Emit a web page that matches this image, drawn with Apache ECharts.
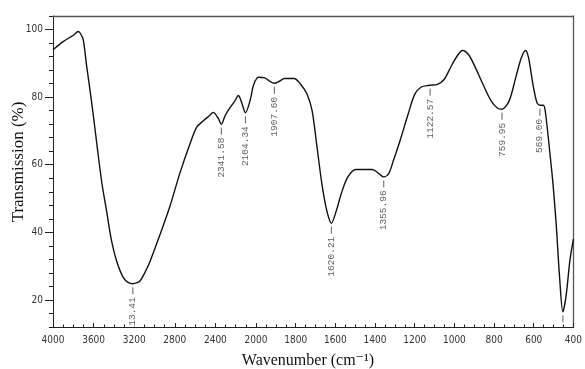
<!DOCTYPE html>
<html><head><meta charset="utf-8">
<script src="https://cdn.jsdelivr.net/npm/echarts@6/dist/echarts.min.js"></script>
<style>html,body{margin:0;padding:0;background:#fff}#c{width:585px;height:369px}</style>
</head><body><div id="c"></div>
<script>
// Spectrum (wavenumber cm-1, transmission %)
const wavenumber = [4000,3900,3800,3751,3725,3702,3668,3619,3570,3520,3471,3422,3372,3307,3260,3215,3170,3143,3100,3044,2946,2847,2749,2650,2584,2519,2460,2421,2377,2340,2305,2256,2207,2174,2141,2104,2059,2030,2010,2000,
  1989,1956,1931,1908,1882,1857,1808,1775,1742,1717,1693,1668,1644,1620,1594,1570,1537,1496,1414,1381,1356,1331,1307,1274,1233,1200,1167,1126,1085,1052,1020,987,959,929,897,856,815,782,760,724,691,663,641,626,604,584,569,552,542,519,503,486,470,453,437,417,400];
const transmission = [94.0,96.4,98.3,99.4,98.6,97.0,89.1,78.4,66.6,54.9,46.1,37.3,31.4,26.6,25.2,24.8,25.1,25.6,27.8,31.4,39.3,47.8,57.6,66.2,71.1,73.0,74.5,75.5,74.0,72.0,74.5,76.9,78.9,80.5,78.4,75.4,78.9,83.0,84.7,85.2,
  85.9,85.7,84.7,84.1,84.7,85.5,85.5,83.8,80.8,75.9,65.5,54.4,46.6,42.7,46.6,51.5,56.4,58.6,58.6,57.4,56.4,57.4,61.3,67.1,75.0,80.8,83.0,83.5,83.8,85.2,88.7,92.1,93.8,92.6,89.1,83.8,78.9,76.7,76.4,78.9,85.7,91.6,93.8,91.6,83.8,78.4,77.6,77.6,75.9,63.7,54.4,41.7,27.0,16.5,21.2,32.0,38.0];
// Peak annotations
const peakWavenumber = [3213.41,2341.58,2104.34,1907.60,1620.21,1355.96,1122.57,759.95,569.00,453];
const peakTransmission = [24.8,72.0,75.4,84.1,42.7,56.4,83.5,76.4,77.6,16.5];
const peakText = ['13.41','2341.58','2104.34','1907.60','1620.21','1355.96','1122.57','759.95','569.00',''];
// Axis ticks
const yTickLabels = [20,40,60,80,100];

const hiLine = [], loLine = [];
wavenumber.forEach((w,i)=>{ if (w>=2000) hiLine.push([w,transmission[i]]); if (w<=2000) loLine.push([w,transmission[i]]); });
const hiPeaks = [], loPeaks = [];
peakWavenumber.forEach((w,i)=>{ const d={value:[w,peakTransmission[i]],name:peakText[i]}; (w>2000?hiPeaks:loPeaks).push(d); });

const tickFont = "'Liberation Sans Narrow','DejaVu Sans Condensed',sans-serif";
const serif = "'Liberation Serif','DejaVu Serif',serif";
const axisCol = '#222';
const frameCol = '#555';

function bottomX(grid, min, max, interval, hideVal){
  return {type:'value', gridIndex:grid, position:'bottom', min:min, max:max, interval:interval, inverse:true,
    axisLine:{show:true,onZero:false,lineStyle:{color:axisCol,width:1}},
    axisTick:{show:true,inside:true,length:4,lineStyle:{color:axisCol}},
    minorTick:{show:true,splitNumber:4,length:2.5,lineStyle:{color:axisCol}},
    splitLine:{show:false},
    axisLabel:{show:true,margin:8,fontFamily:tickFont,fontSize:10,color:'#333',
      formatter:v=> (v===hideVal?'':String(v)), showMinLabel:true, showMaxLabel:true}};
}
function topX(grid,min,max){
  return {type:'value', gridIndex:grid, position:'top', min:min, max:max, inverse:true,
    axisLine:{show:true,onZero:false,lineStyle:{color:frameCol,width:1.3}},
    axisTick:{show:false}, axisLabel:{show:false}, splitLine:{show:false}};
}
const lineLabel = {show:true, formatter:'{b}', position:'bottom', distance:2, rotate:90, align:'right', verticalAlign:'middle',
  fontFamily:"'Liberation Mono','DejaVu Sans Mono',monospace", fontSize:9.5, color:'#333', backgroundColor:'#fff', padding:[0,1]};

const option = {
  animation:false,
  backgroundColor:'#fff',
  grid:[{left:53, top:16, width:203, bottom:42}, {left:256, right:4, top:16, bottom:42}],
  xAxis:[bottomX(0,2000,4000,400,null), bottomX(1,400,2000,200,2000), topX(0,2000,4000), topX(1,400,2000)],
  yAxis:[
    {type:'value', gridIndex:0, position:'left', min:12, max:104, interval:4,
      axisLine:{show:true,onZero:false,lineStyle:{color:axisCol,width:1}},
      axisTick:{show:true,inside:false,length:4,lineStyle:{color:axisCol}},
      axisLabel:{show:true,customValues:yTickLabels,margin:10,fontFamily:tickFont,fontSize:10,color:'#333'},
      splitLine:{show:false}},
    {type:'value', gridIndex:0, position:'left', min:12, max:104, interval:4,
      axisLine:{show:false}, axisLabel:{show:false}, splitLine:{show:false},
      axisTick:{show:true,inside:false,length:8,customValues:yTickLabels,lineStyle:{color:axisCol}}},
    {type:'value', gridIndex:1, position:'right', min:12, max:104, interval:4,
      axisLine:{show:true,onZero:false,lineStyle:{color:frameCol,width:1.3}},
      axisTick:{show:false}, axisLabel:{show:false}, splitLine:{show:false}}
  ],
  series:[
    {type:'line', xAxisIndex:0, yAxisIndex:0, data:hiLine, showSymbol:false, smooth:0.3, lineStyle:{color:'#111',width:1.4}, z:2},
    {type:'line', xAxisIndex:1, yAxisIndex:2, data:loLine, showSymbol:false, smooth:0.3, lineStyle:{color:'#111',width:1.4}, z:2},
    {type:'scatter', xAxisIndex:0, yAxisIndex:0, data:hiPeaks, symbol:'rect', symbolSize:[1,7], symbolOffset:[0,7],
      itemStyle:{color:'#333'}, label:lineLabel, z:5, silent:true},
    {type:'scatter', xAxisIndex:1, yAxisIndex:2, data:loPeaks, symbol:'rect', symbolSize:[1,7], symbolOffset:[0,7],
      itemStyle:{color:'#333'}, label:lineLabel, z:5, silent:true}
  ],
  graphic:[
    {type:'text', x:308, y:361, style:{text:'Wavenumber (cm⁻¹)', font:'16px '+serif, fill:'#111', align:'center', verticalAlign:'middle'}},
    {type:'text', x:19, y:162, rotation:Math.PI/2, style:{text:'Transmission (%)', font:'17px '+serif, fill:'#111', align:'center', verticalAlign:'middle'}}
  ]
};
const chart = echarts.init(document.getElementById('c'), null, {renderer:'canvas'});
chart.setOption(option);
</script></body></html>
